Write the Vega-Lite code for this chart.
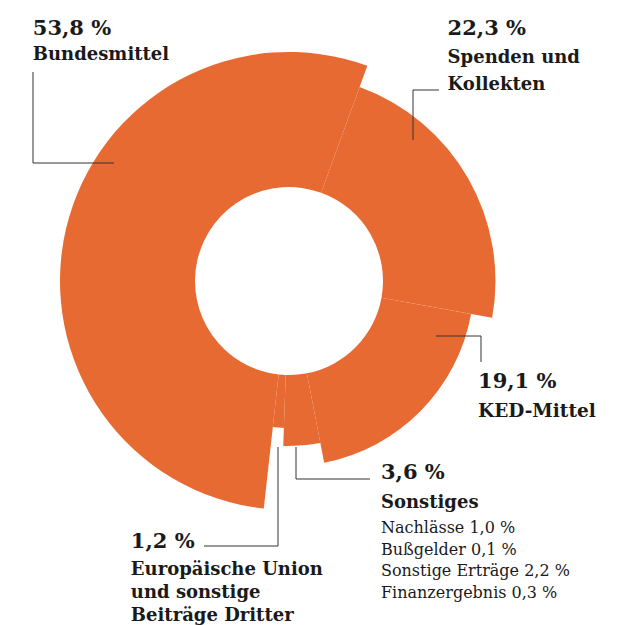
{
  "$schema": "https://vega.github.io/schema/vega-lite/v6.json",
  "autosize": "none",
  "width": 578,
  "height": 562,
  "padding": {"left": 0, "top": 0, "right": 46, "bottom": 63},
  "background": "white",
  "config": {"view": {"stroke": null}},
  "data": {
    "values": [
      {"key": "spenden", "idx": 1, "rank": 4, "share": 22.3, "pct": "22,3 %", "name": ["Spenden und", "Kollekten"]},
      {"key": "ked", "idx": 2, "rank": 3, "share": 19.1, "pct": "19,1 %", "name": ["KED-Mittel"]},
      {"key": "sonst", "idx": 3, "rank": 2, "share": 3.6, "pct": "3,6 %", "name": ["Sonstiges"],
       "detail": ["Nachlässe 1,0 %", "Bußgelder 0,1 %", "Sonstige Erträge 2,2 %", "Finanzergebnis 0,3 %"]},
      {"key": "eu", "idx": 4, "rank": 1, "share": 1.2, "pct": "1,2 %", "name": ["Europäische Union", "und sonstige", "Beiträge Dritter"]},
      {"key": "bund", "idx": 5, "rank": 5, "share": 53.8, "pct": "53,8 %", "name": ["Bundesmittel"]}
    ]
  },
  "transform": [
    {"stack": "share", "groupby": [], "sort": [{"field": "idx", "order": "ascending"}], "as": ["s0", "s1"]}
  ],
  "layer": [
    {
      "encoding": {
        "theta": {"field": "s0", "type": "quantitative", "stack": null, "scale": {"domain": [0, 100], "range": [0.3491, 6.6323]}},
        "radius": {"field": "rank", "type": "quantitative", "scale": {"type": "pow", "exponent": 1.2, "domain": [1, 5], "range": [147, 229], "zero": false}}
      },
      "layer": [
        {"mark": {"type": "arc", "radius2": 94, "color": "#E86A33"}, "encoding": {"theta2": {"field": "s1"}}},
        {
          "mark": {"type": "text", "font": "DejaVu Serif", "fontWeight": "bold", "fontSize": 21, "align": "left", "baseline": "alphabetic", "color": "#1a1a1a", "dx": -231, "dy": -474},
          "encoding": {"text": {"condition": {"test": "datum.key === 'bund'", "field": "pct", "type": "nominal"}, "value": ""}}
        },
        {
          "mark": {"type": "text", "font": "DejaVu Serif", "fontWeight": "bold", "fontSize": 18, "align": "left", "baseline": "alphabetic", "color": "#1a1a1a", "dx": -231, "dy": -449},
          "encoding": {"text": {"condition": {"test": "datum.key === 'bund'", "field": "name", "type": "nominal"}, "value": ""}}
        },
        {
          "mark": {"type": "text", "font": "DejaVu Serif", "fontWeight": "bold", "fontSize": 21, "align": "left", "baseline": "alphabetic", "color": "#1a1a1a", "dx": 88, "dy": -52},
          "encoding": {"text": {"condition": {"test": "datum.key === 'spenden'", "field": "pct", "type": "nominal"}, "value": ""}}
        },
        {
          "mark": {"type": "text", "font": "DejaVu Serif", "fontWeight": "bold", "fontSize": 18, "lineHeight": 27.5, "align": "left", "baseline": "alphabetic", "color": "#1a1a1a", "dx": 88, "dy": -24},
          "encoding": {"text": {"condition": {"test": "datum.key === 'spenden'", "field": "name", "type": "nominal"}, "value": ""}}
        },
        {
          "mark": {"type": "text", "font": "DejaVu Serif", "fontWeight": "bold", "fontSize": 21, "align": "left", "baseline": "alphabetic", "color": "#1a1a1a", "dx": 7, "dy": 74},
          "encoding": {"text": {"condition": {"test": "datum.key === 'ked'", "field": "pct", "type": "nominal"}, "value": ""}}
        },
        {
          "mark": {"type": "text", "font": "DejaVu Serif", "fontWeight": "bold", "fontSize": 18.5, "align": "left", "baseline": "alphabetic", "color": "#1a1a1a", "dx": 7, "dy": 103},
          "encoding": {"text": {"condition": {"test": "datum.key === 'ked'", "field": "name", "type": "nominal"}, "value": ""}}
        },
        {
          "mark": {"type": "text", "font": "DejaVu Serif", "fontWeight": "bold", "fontSize": 21, "align": "left", "baseline": "alphabetic", "color": "#1a1a1a", "dx": 60.6, "dy": 36},
          "encoding": {"text": {"condition": {"test": "datum.key === 'sonst'", "field": "pct", "type": "nominal"}, "value": ""}}
        },
        {
          "mark": {"type": "text", "font": "DejaVu Serif", "fontWeight": "bold", "fontSize": 18, "align": "left", "baseline": "alphabetic", "color": "#1a1a1a", "dx": 60.6, "dy": 65},
          "encoding": {"text": {"condition": {"test": "datum.key === 'sonst'", "field": "name", "type": "nominal"}, "value": ""}}
        },
        {
          "mark": {"type": "text", "font": "DejaVu Serif", "fontSize": 16, "lineHeight": 21.7, "align": "left", "baseline": "alphabetic", "color": "#1a1a1a", "dx": 60.6, "dy": 90},
          "encoding": {"text": {"condition": {"test": "datum.key === 'sonst'", "field": "detail", "type": "nominal"}, "value": ""}}
        },
        {
          "mark": {"type": "text", "font": "DejaVu Serif", "fontWeight": "bold", "fontSize": 21, "align": "left", "baseline": "alphabetic", "color": "#1a1a1a", "dx": -153, "dy": 120},
          "encoding": {"text": {"condition": {"test": "datum.key === 'eu'", "field": "pct", "type": "nominal"}, "value": ""}}
        },
        {
          "mark": {"type": "text", "font": "DejaVu Serif", "fontWeight": "bold", "fontSize": 18, "lineHeight": 23, "align": "left", "baseline": "alphabetic", "color": "#1a1a1a", "dx": -153, "dy": 147},
          "encoding": {"text": {"condition": {"test": "datum.key === 'eu'", "field": "name", "type": "nominal"}, "value": ""}}
        }
      ]
    },
    {
      "mark": {"type": "point", "filled": false, "color": "#333333", "strokeWidth": 1, "opacity": 1, "size": 4},
      "encoding": {
        "shape": {
          "field": "key",
          "type": "nominal",
          "scale": {
            "domain": ["bund", "spenden", "ked", "sonst", "eu"],
            "range": [
              "M-256,-209L-256,-118L-175,-118",
              "M124,-141L124,-191L150,-191",
              "M147,55L192,55L192,81",
              "M7,166L7,198L81,198",
              "M-11,166L-11,265L-85,265"
            ]
          },
          "legend": null
        }
      }
    }
  ]
}
